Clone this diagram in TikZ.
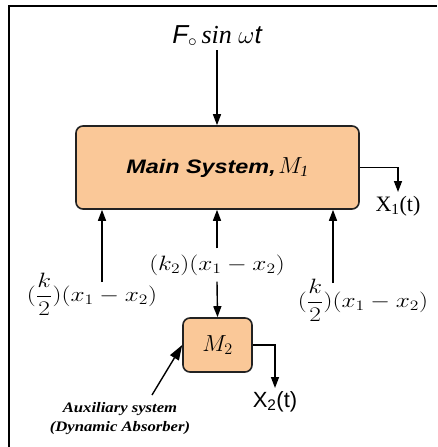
\documentclass[tikz,border=0pt]{standalone}
\usepackage{fontspec}
\usepackage{amsmath}
\setmainfont{Liberation Serif}
\setsansfont{Liberation Sans}
\usetikzlibrary{arrows.meta, positioning, calc}
\definecolor{massfill}{HTML}{FAC898}
\definecolor{massedge}{HTML}{222222}
\newfontfamily\widesans[FakeStretch=1.2]{Liberation Sans}
\newfontfamily\wideserif[FakeStretch=1.15]{Liberation Serif}
\newcommand{\mathlab}[1]{\scalebox{1.22}[1]{$#1$}}

\tikzset{
  massbox/.style={draw=massedge, fill=massfill, line width=1.6pt, rounded corners=7pt},
  flow/.style={line width=1.4pt, -{Triangle[length=11pt,width=8pt]}},
  lab/.style={inner sep=0pt, font=\fontsize{20}{22}\selectfont},
}

\begin{document}
\begin{tikzpicture}[x=1pt,y=-1pt]
  \useasboundingbox (0,0) rectangle (437,447);
  \draw[line width=2.5pt] (9,447) -- (9,6) -- (437,6);

  % masses
  \node[massbox, minimum width=283pt, minimum height=83pt] (main) at (217.5,167.5)
    {{\widesans\fontsize{19.5}{21}\selectfont\bfseries\itshape Main System,}\ %
     {\fontsize{20}{22}\selectfont\scalebox{1.12}{$M_{\mathit{1}}$}}};
  \node[massbox, minimum width=69pt, minimum height=54pt] (m2) at (217.5,345)
    {\fontsize{21}{23}\selectfont\scalebox{1.12}{$M_2$}};

  % forcing
  \node[lab] (force) at (217,36)
    {\fontsize{26}{28}\selectfont{\sffamily\itshape F}$_\circ$\,{\itshape sin} $\omega${\sffamily\itshape t}};
  \draw[flow] (force.south |- 0,50) -- (force.south |- main.north);

  % spring forces on main mass
  \node[lab] (kleft) at (92,294) {\mathlab{(\dfrac{k}{2})(x_1-x_2)}};
  \node[lab] (kmid) at (217,265) {\mathlab{(k_2)(x_1-x_2)}};
  \node[lab] (kright) at (363,300) {\mathlab{(\dfrac{k}{2})(x_1-x_2)}};
  \coordinate (kleftend) at (102,282);
  \coordinate (krightend) at (333,283);
  \draw[flow] (kleftend) -- (kleftend |- main.south);
  \draw[flow] (kmid.north) ++(0,-6) -- (kmid.north |- main.south);
  \draw[flow] (krightend) -- (krightend |- main.south);
  \draw[flow] (kmid.south) ++(0,6) -- (m2.north);

  % responses
  \coordinate (x1end) at (398,192);
  \draw[flow] (main.east) -| (x1end);
  \node[lab, below=4pt of x1end] (x1) {\fontsize{22}{24}\selectfont X$_{\mathrm{1}}$(t)};
  \coordinate (x2end) at (275,388);
  \draw[flow] (m2.east) -| (x2end);
  \node[lab, below=3pt of x2end] (x2) {\sffamily\fontsize{22}{24}\selectfont X$_{\sf 2}$(t)};

  % absorber note
  \node[lab, align=center, font=\wideserif\fontsize{14.5}{19}\selectfont\bfseries\itshape] (aux) at (120,419)
    {Auxiliary system\\(Dynamic Absorber)};
  \coordinate (auxstart) at (152,395);
  \draw[line width=1.4pt, -{Triangle[length=15pt,width=10pt]}] (auxstart) -- (m2.west);
\end{tikzpicture}
\end{document}
